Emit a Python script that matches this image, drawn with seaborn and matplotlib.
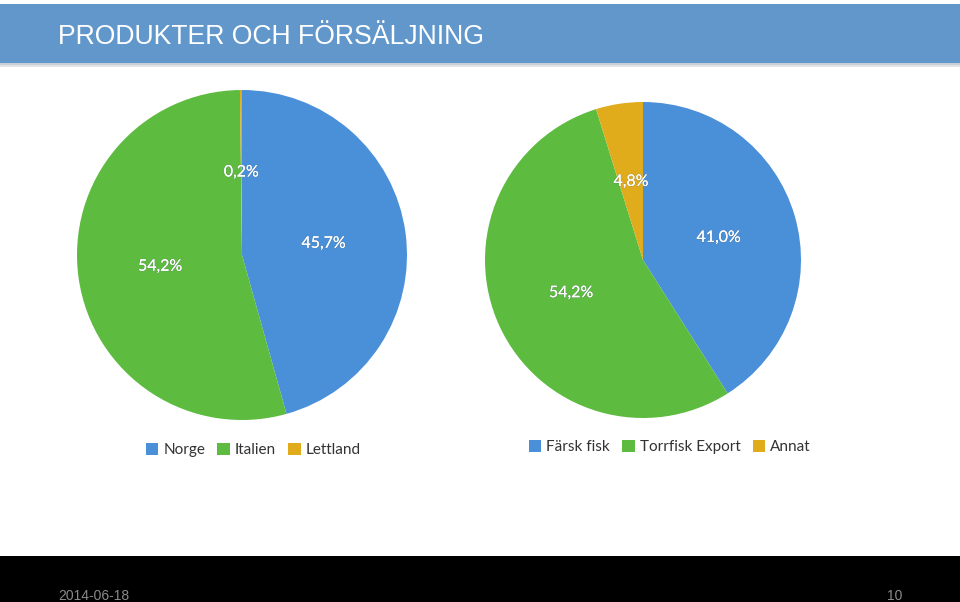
import matplotlib
matplotlib.use("Agg")
import matplotlib.pyplot as plt
import matplotlib.patheffects as pe
from matplotlib.patches import Rectangle
import seaborn as sns

sns.set_theme(style="white")
plt.rcParams['font.family'] = ['Lato', 'DejaVu Sans']

# Data
title = "PRODUKTER OCH FÖRSÄLJNING"
countries = ["Norge", "Italien", "Lettland"]
country_share = [45.7, 54.2, 0.2]
products = ["Färsk fisk", "Torrfisk Export", "Annat"]
product_share = [41.0, 54.2, 4.8]
footer_date = "2014-06-18"
page_no = "10"

colors = ["#4A90D9", "#5DBB3F", "#E0AC1B"]

W, H = 960, 602
fig = plt.figure(figsize=(W / 100, H / 100), dpi=100)
fig.patch.set_facecolor("white")

# Title banner with subtle shadow
fig.patches.append(Rectangle((0, 1 - 67 / H), 1, 62 / H, transform=fig.transFigure,
                             facecolor="#e2e2e2", edgecolor="none", zorder=0))
fig.patches.append(Rectangle((0, 1 - 65 / H), 1, 60 / H, transform=fig.transFigure,
                             facecolor="#c8cfd8", edgecolor="none", zorder=0))
fig.patches.append(Rectangle((0, 1 - 63 / H), 1, 59 / H, transform=fig.transFigure,
                             facecolor="#6297CC", edgecolor="none", zorder=1))
fig.text(58 / W, 1 - 37 / H, title, color="white", fontsize=19.2,
         family=["Liberation Sans", "DejaVu Sans"], va="center", ha="left", zorder=2)

# Footer
fig.patches.append(Rectangle((0, 0), 1, 46 / H, transform=fig.transFigure,
                             facecolor="black", edgecolor="none", zorder=1))
fig.text(58 / W, 1 - 596 / H, footer_date, color="#8a8a8a", fontsize=10,
         family=["Liberation Sans", "DejaVu Sans"], va="center", ha="left", zorder=2)
fig.text(887 / W, 1 - 596 / H, page_no, color="#8a8a8a", fontsize=10,
         family=["Liberation Sans", "DejaVu Sans"], va="center", ha="left", zorder=2)


def fmt(v):
    return f"{v:.1f}%".replace(".", ",")


def draw_pie(cx, cy, r, values, names, legend_y, legend_x):
    ax = fig.add_axes([(cx - r) / W, (H - cy - r) / H, 2 * r / W, 2 * r / H])
    wedges, texts = ax.pie(values, colors=colors, startangle=90, counterclock=False,
                           labels=[fmt(v) for v in values], labeldistance=0.5,
                           wedgeprops=dict(linewidth=0))
    for t in texts:
        t.set_horizontalalignment("center")
        t.set_verticalalignment("center")
        t.set_color("white")
        t.set_fontsize(11.5)
        t.set_fontweight("normal")
        t.set_path_effects([pe.withStroke(linewidth=0.9, foreground="#5f6f7f", alpha=0.35),
                            pe.Normal()])
    ax.set_xlim(-1, 1)
    ax.set_ylim(-1, 1)
    ax.set_aspect("equal")
    ax.axis("off")
    leg = fig.legend(wedges, names, loc="center left",
                     bbox_to_anchor=(legend_x / W, 1 - legend_y / H),
                     ncol=3, frameon=False, fontsize=11, handlelength=0.8,
                     handleheight=0.8, handletextpad=0.35, columnspacing=0.8)
    for t in leg.get_texts():
        t.set_color("#333333")
    return ax


draw_pie(242, 255, 165, country_share, countries, 450, 132)
draw_pie(643, 260, 158, product_share, products, 447, 515)

fig.savefig("out.png", dpi=100, facecolor="white")
